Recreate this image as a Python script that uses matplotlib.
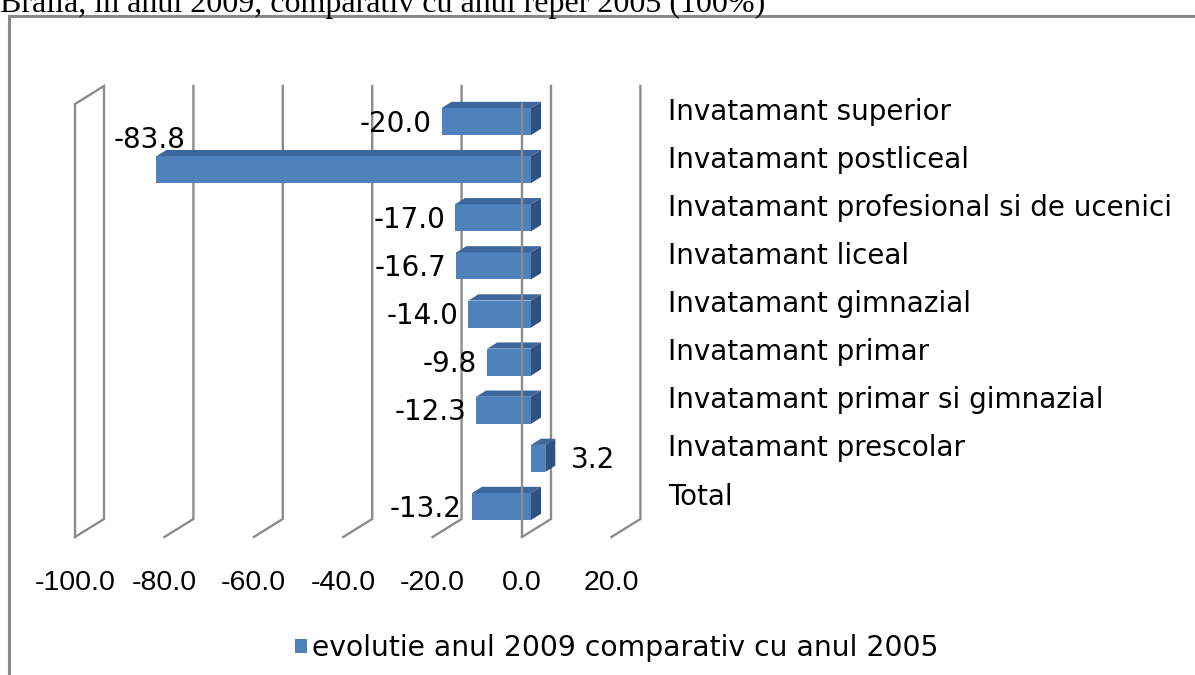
import matplotlib
matplotlib.use("Agg")
import matplotlib.pyplot as plt
from matplotlib.patches import Polygon, Patch
from matplotlib.lines import Line2D

# ---------------- data ----------------
categories = [
    "Total",
    "Invatamant prescolar",
    "Invatamant primar si gimnazial",
    "Invatamant primar",
    "Invatamant gimnazial",
    "Invatamant liceal",
    "Invatamant profesional si de ucenici",
    "Invatamant postliceal",
    "Invatamant superior",
]
values = [-13.2, 3.2, -12.3, -9.8, -14.0, -16.7, -17.0, -83.8, -20.0]
x_ticks = [-100, -80, -60, -40, -20, 0, 20]
x_tick_labels = ["-100.0", "-80.0", "-60.0", "-40.0", "-20.0", "0.0", "20.0"]
series_name = "evolutie anul 2009 comparativ cu anul 2005"
title_text = "Braila, in anul 2009, comparativ cu anul reper 2005 (100%)"

# ---------------- styling / geometry ----------------
W, H = 1195, 675
FRONT = "#4F81BD"
TOP = "#3D669C"
SIDE = "#2F5282"
GRID = "#8C8C8C"
SANS = ["DejaVu Sans"]

fig = plt.figure(figsize=(W / 100, H / 100), dpi=100)
ax = fig.add_axes([0, 0, 1, 1])

PX_X = 4.47      # pixels per value unit
PX_Y = 48.125    # pixels per category
X0 = 522.0       # pixel column of value 0 (front plane)
Y0 = 512.1       # pixel row of category 0 (front plane)
ax.set_xlim(-X0 / PX_X, (W - X0) / PX_X)
ax.set_ylim((Y0 - H) / PX_Y, Y0 / PX_Y)
ax.axis("off")


def ux(px):
    return px / PX_X


def uy(px):
    return px / PX_Y


DX, DY = ux(29), uy(18)              # full depth of the 3D box
floor_y = (Y0 - 537) / PX_Y
top_back = (Y0 - 86) / PX_Y

# back wall grid + left wall
for k, t in enumerate(x_ticks):
    if k == 0:
        ax.plot([t, t, t + DX, t + DX, t],
                [floor_y, top_back - DY, top_back, floor_y + DY, floor_y],
                color=GRID, lw=1.7, zorder=1, solid_joinstyle="miter")
    else:
        ax.plot([t, t + DX, t + DX], [floor_y, floor_y + DY, top_back],
                color=GRID, lw=1.7, zorder=1, solid_joinstyle="miter")

# bars
d0 = 9 / 29
dd = 10 / 29
bx0, by0 = d0 * DX, d0 * DY
bdx, bdy = dd * DX, dd * DY
bh = uy(27)
n = len(categories)
ypos = [i + by0 for i in range(n)]
bars = ax.barh(ypos, values, left=bx0, height=bh, color=FRONT, lw=0, zorder=3)

for i, v in enumerate(values):
    xa = bx0 + min(0, v)
    xb = bx0 + max(0, v)
    yt = ypos[i] + bh / 2
    yb = ypos[i] - bh / 2
    ax.add_patch(Polygon([(xa, yt), (xb, yt), (xb + bdx, yt + bdy), (xa + bdx, yt + bdy)],
                         closed=True, facecolor=TOP, lw=0, zorder=3))
    ax.add_patch(Polygon([(xb, yb), (xb, yt), (xb + bdx, yt + bdy), (xb + bdx, yb + bdy)],
                         closed=True, facecolor=SIDE, lw=0, zorder=3))

# front vertical axis line at 0
ax.plot([0, 0], [floor_y, top_back - DY], color=GRID, lw=1.7, zorder=5)

# data labels
for i, v in enumerate(values):
    yc = ypos[i]
    if v < -60:
        ax.text(bx0 + v - ux(7), yc + uy(21.6), f"{v:.1f}", ha="center", va="baseline",
                fontsize=20, family=SANS, zorder=6)
    elif v < 0:
        ax.text(bx0 + v - ux(10), yc - uy(10), f"{v:.1f}", ha="right", va="baseline",
                fontsize=20, family=SANS, zorder=6)
    else:
        ax.text(bx0 + v + ux(26), yc - uy(10), f"{v:.1f}", ha="left", va="baseline",
                fontsize=20, family=SANS, zorder=6)

# category labels (right side)
for i, c in enumerate(categories):
    ax.text(ux(668 - X0), ypos[i] + uy(2), c, ha="left", va="baseline",
            fontsize=20, family=SANS)

# value axis tick labels
tick_y = (Y0 - 590) / PX_Y
for t, lab in zip(x_ticks, x_tick_labels):
    ax.text(t, tick_y, lab, ha="center", va="baseline", fontsize=20.5,
            family=["Liberation Sans"])

# legend
handle = Patch(facecolor=FRONT, edgecolor="none")
fig.legend([handle], [series_name], loc="center left",
           bbox_to_anchor=(295 / W, 1 - 648 / H), frameon=False,
           prop={"family": SANS, "size": 20.3}, handlelength=0.42, handleheight=0.42,
           handletextpad=0.2, borderpad=0, borderaxespad=0)

# cropped title (document caption above the chart)
fig.text(0.0, 1 - 12 / H, title_text, ha="left", va="baseline", fontsize=23,
         family=["Liberation Serif"])

# chart frame (top and left edges visible)
fig.add_artist(Line2D([8.5 / W, 8.5 / W], [0, 1 - 15.5 / H], transform=fig.transFigure,
                      color="#8A8A8A", lw=2.2))
fig.add_artist(Line2D([8.5 / W, 1], [1 - 15.5 / H, 1 - 15.5 / H], transform=fig.transFigure,
                      color="#8A8A8A", lw=2.2))

fig.savefig("out.png", dpi=100)
